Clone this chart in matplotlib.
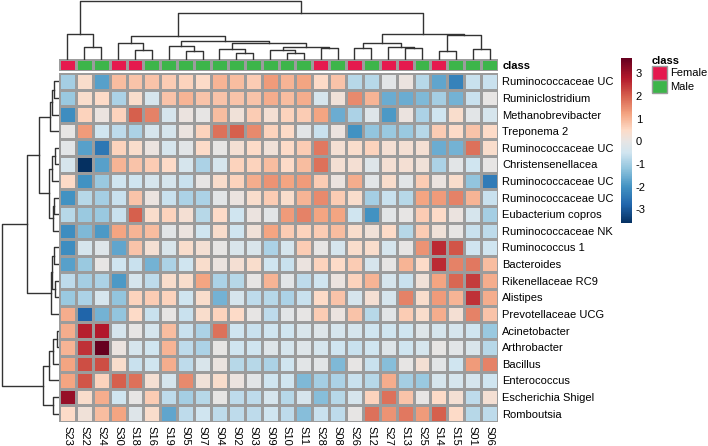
import matplotlib
matplotlib.use("Agg")
import matplotlib.pyplot as plt
import numpy as np
from matplotlib.colors import LinearSegmentedColormap, ListedColormap, Normalize
from matplotlib.patches import Patch

plt.rcParams['font.family'] = ['Liberation Sans', 'DejaVu Sans']
plt.rcParams['axes.unicode_minus'] = False

# samples in display (clustered) order
samples = ["S23", "S22", "S24", "S30", "S18", "S16", "S19", "S05", "S07", "S04",
           "S02", "S03", "S09", "S10", "S11", "S28", "S08", "S26", "S12", "S27",
           "S13", "S25", "S14", "S15", "S01", "S06"]
sex = ["Female", "Male", "Male", "Female", "Female", "Male", "Male", "Male", "Male", "Male",
       "Male", "Male", "Male", "Male", "Male", "Female", "Male", "Female", "Male", "Female",
       "Female", "Male", "Female", "Male", "Male", "Male"]

taxa = ["Ruminococcaceae UC", "Ruminiclostridium", "Methanobrevibacter", "Treponema 2",
        "Ruminococcaceae UC", "Christensenellacea", "Ruminococcaceae UC", "Ruminococcaceae UC",
        "Eubacterium copros", "Ruminococcaceae NK", "Ruminococcus 1", "Bacteroides",
        "Rikenellaceae RC9", "Alistipes", "Prevotellaceae UCG", "Acinetobacter",
        "Arthrobacter", "Bacillus", "Enterococcus", "Escherichia Shigel", "Romboutsia"]

# scaled abundance (z-score), one row per taxon
zscore = [
    [-1.0, 0.4, -1.8, 0.9, 0.8, 0.8, 0.7, 0.6, 0.5, 1.0, 0.9, 0.7, 1.3, 1.0, 1.2, 0.5, 0.8, -0.8, -0.8, -0.1, 0.1, -0.8, -1.7, -2.3, -0.6, -0.6],
    [-1.1, 0.4, 0.5, -0.9, 0.4, -0.4, 0.8, 1.0, 0.8, 0.8, 0.8, 0.8, 1.1, 0.9, 1.1, -0.4, 0.2, 1.5, 1.0, -1.6, -1.6, -1.4, -1.0, -1.5, -0.6, 0.0],
    [-2.1, 0.6, 0.1, 0.6, 2.0, 1.6, -0.4, 0.1, 0.0, 0.9, 0.2, 0.7, 0.3, 0.6, 0.7, 1.2, -1.6, -0.9, -0.2, -1.9, 0.1, -0.9, -0.5, 0.4, -0.1, -0.4],
    [0.0, 1.3, -0.5, -0.7, -0.9, -0.4, -0.4, 0.1, 0.6, 1.8, 2.0, 1.5, 0.6, 0.5, -0.1, -0.6, 0.1, -2.0, -1.2, -1.1, -1.1, -0.8, 0.7, 0.5, 0.8, 0.5],
    [-0.1, -1.8, -2.5, 0.6, 0.4, 0.1, -0.4, -0.1, 0.5, 0.0, 0.3, 0.5, 0.2, 0.5, 0.7, 1.7, 0.3, 0.4, 0.6, 0.3, 0.3, 0.3, -1.6, -1.5, 1.8, 0.4],
    [-0.4, -3.62, -1.8, 1.0, 0.8, 0.7, 0.5, -0.4, -0.9, -0.4, 0.6, 0.6, 0.9, 0.5, 0.9, 1.8, 0.3, 0.3, -0.2, 0.3, 0.3, 0.2, -0.9, -0.1, -0.5, 0.0],
    [0.5, -2.0, -1.1, -0.5, -0.5, -0.4, -0.4, -0.6, 0.0, 0.4, 0.6, 1.1, 1.4, 1.2, 1.3, 0.7, 0.1, 1.1, -0.1, 0.4, -0.1, 0.7, 0.1, 0.4, -1.2, -2.4],
    [-2.0, -0.8, -1.0, -0.6, 0.8, 0.1, -0.6, -0.9, -0.9, -0.1, 0.1, 0.4, 0.7, 0.4, 1.0, 1.5, 0.7, 0.4, -1.0, -0.6, -0.8, 1.2, 1.3, 1.6, 1.0, -0.6],
    [-0.8, -1.1, -1.1, -0.6, 2.0, 0.4, 0.6, 0.3, -0.8, 0.5, -0.5, 0.1, -0.1, 1.3, 1.6, 1.2, 1.2, -0.5, -2.0, -0.1, 0.0, 0.7, 0.5, 0.1, -0.4, -1.0],
    [-2.1, -1.4, -1.9, 1.2, 1.0, 0.9, -0.1, 0.1, -0.5, 0.4, -0.5, 0.2, 1.2, 0.7, 0.6, 0.7, 0.9, 0.4, 0.2, 0.5, -0.8, 0.7, 0.2, 0.0, -0.6, -0.7],
    [-2.1, -0.4, -0.2, -1.7, 0.8, 0.3, -0.3, 0.4, 0.3, 0.0, -0.3, -0.3, -0.9, -0.4, 0.7, 0.0, -0.4, 0.4, 0.4, -0.4, 0.0, 1.4, 2.6, 2.1, -0.5, -0.5],
    [-1.8, -1.1, 0.0, -0.5, -0.6, -1.5, -0.9, -0.5, 0.4, 0.1, 0.3, 0.4, -0.5, -0.6, 0.1, 0.6, 0.5, 0.7, -0.4, 0.0, 1.0, 0.5, 2.6, 1.6, 1.7, 0.9],
    [-0.7, -1.0, -0.9, -1.9, -0.4, -0.7, 0.4, 0.4, 1.2, -0.9, -0.8, 0.0, 1.0, -0.1, -0.7, -0.5, 0.1, 0.6, 1.0, -0.4, -0.6, 0.2, 1.2, 1.9, 2.4, 1.1],
    [-1.1, -0.9, -0.4, -1.2, 0.6, 0.7, 0.6, -0.5, 0.4, -1.5, -0.4, -0.7, -0.8, -0.9, -0.6, 0.5, 0.8, -0.4, 0.3, -0.4, 1.6, 0.4, 1.3, 1.0, 2.5, 1.1],
    [1.1, -2.8, -1.5, -1.2, 0.5, -0.6, 0.0, -0.6, 0.4, 0.6, 0.5, 0.0, -0.7, -0.1, 0.0, 0.7, 0.1, 0.8, -0.8, -0.1, 0.7, 0.4, 1.1, 0.3, 1.6, 0.8],
    [1.1, 2.7, 2.8, -0.4, 0.0, -0.4, 0.9, -0.6, -0.9, 1.8, -0.5, -0.6, -0.5, -0.5, -0.3, -0.2, -0.4, -0.4, -0.5, -0.5, -0.5, -0.2, -0.4, -0.4, -0.5, -1.1],
    [1.0, 2.5, 3.66, 0.1, -0.4, -0.5, 1.0, -0.7, -0.9, 0.0, -0.5, -0.5, -0.2, -0.4, -0.2, -0.4, -0.5, -0.6, -0.5, -0.2, -0.5, -0.4, 0.0, -0.1, -0.3, -0.8],
    [1.2, 2.2, 2.2, 0.4, -0.6, -0.5, 1.1, -0.7, -0.3, 0.1, -0.8, -0.8, -0.9, -0.5, -0.1, -0.1, -1.4, 0.0, -0.6, -1.3, 0.0, 0.3, -0.1, -0.5, 1.3, 1.6],
    [1.2, 2.1, 0.6, 2.0, 1.8, 0.3, -0.4, 1.5, 0.2, 0.4, 0.1, -0.1, -0.5, -0.5, -1.4, -1.0, -0.9, -0.6, -0.8, 1.1, -1.0, -1.1, -0.4, -0.4, -0.4, -0.5],
    [3.1, 0.4, 1.1, -0.5, 0.0, 0.7, -0.7, -1.0, -0.8, 0.0, -0.7, -0.7, -0.4, -0.8, -0.4, -1.3, -0.8, -0.4, 0.6, 1.8, 0.8, 0.0, 0.5, 0.3, -0.7, 0.3],
    [0.5, 0.2, 0.9, 1.2, -0.2, 0.4, -1.7, -0.7, -0.5, -0.7, -0.7, -0.7, -0.5, -0.7, -1.3, -0.6, -0.7, 0.0, 1.8, 1.4, 1.7, 1.3, 2.0, 0.5, -0.8, -0.7],
]

# dendrograms as nested [left, right, height]; leaves are display indices
col_tree = [[0, [1, 2, 36], 75],
            [[[3, [4, 5, 28], 50],
              [[6, [7, 8, 25], 41],
               [[9, [10, 11, 18], 31],
                [[12, [13, 14, 20], 28], [15, 16, 35], 38], 48], 56], 70],
             [[[17, 18, 35], [19, [20, 21, 33], 38], 50],
              [[22, 23, 25], [24, 25, 30], 74], 75], 138], 176]
row_tree = [[[[[[0, 1, 12], 2, 20], 3, 25],
              [[[4, 5, 10], 6, 20], [[7, 8, 12], 9, 15], 28], 58],
             [[[10, 11, 13], [12, 13, 10], 18], 14, 23], 95],
            [[[[15, 16, 5], 17, 15], 18, 27], [19, 20, 15], 45], 170]

class_colors = {"Female": "#E5194E", "Male": "#3DB54A"}
grid_col = "#9c9c9c"
tree_col = "#333333"
fs = 8

W, H = 708, 446
fig = plt.figure(figsize=(W / 100, H / 100), dpi=100)


def box(x0, y0, x1, y1):
    return [x0 / W, 1 - y1 / H, (x1 - x0) / W, (y1 - y0) / H]


z = np.array(zscore)
lo, hi = z.min(), z.max()
# diverging palette, anchored at the value levels it shows in the key
stops = [(-3.62, "#053061"), (-2.8, "#2166AC"), (-2.0, "#4393C3"), (-1.2, "#92C5DE"),
         (-0.5, "#D1E5F0"), (0.0, "#E7E5E4"), (0.5, "#FDDBC7"), (1.2, "#F4A582"),
         (2.0, "#D6604D"), (2.8, "#B2182B"), (3.66, "#67001F")]
cmap = LinearSegmentedColormap.from_list(
    "rdbu", [((v - lo) / (hi - lo), c) for v, c in stops])
norm = Normalize(vmin=lo, vmax=hi)

# heatmap
ax = fig.add_axes(box(59, 73, 498, 422))
edges_x = np.arange(len(samples) + 1) - 0.5
edges_y = np.arange(len(taxa) + 1) - 0.5
mesh = ax.pcolormesh(edges_x, edges_y, z, cmap=cmap, norm=norm,
                     edgecolors=grid_col, linewidth=0.8)
ax.set_xlim(-0.5, len(samples) - 0.5)
ax.set_ylim(len(taxa) - 0.5, -0.5)
ax.yaxis.tick_right()
ax.set_yticks(range(len(taxa)))
ax.set_yticklabels(taxa, fontsize=fs)
ax.set_xticks(range(len(samples)))
ax.set_xticklabels(samples, rotation=270, fontsize=fs)
ax.tick_params(length=0, pad=3)
for s in ax.spines.values():
    s.set_visible(False)

# class annotation bar
axa = fig.add_axes(box(59, 59, 498, 70.5))
codes = np.array([[0 if s == "Female" else 1 for s in sex]])
axa.pcolormesh(edges_x, [-0.5, 0.5], codes,
               cmap=ListedColormap([class_colors["Female"], class_colors["Male"]]),
               vmin=0, vmax=1, edgecolors=grid_col, linewidth=0.8)
axa.set_xlim(-0.5, len(samples) - 0.5)
axa.set_ylim(0.5, -0.5)
axa.set_xticks([])
axa.yaxis.tick_right()
axa.set_yticks([0])
axa.set_yticklabels(["class"], fontsize=fs, fontweight="bold")
axa.tick_params(length=0, pad=3)
for s in axa.spines.values():
    s.set_visible(False)


def draw_tree(axd, node, vertical):
    if isinstance(node, int):
        return node, 0.0
    a, b, h = node
    pa, ha = draw_tree(axd, a, vertical)
    pb, hb = draw_tree(axd, b, vertical)
    if vertical:
        axd.plot([pa, pa, pb, pb], [ha, h, h, hb], color=tree_col, lw=1.0)
    else:
        axd.plot([ha, h, h, hb], [pa, pa, pb, pb], color=tree_col, lw=1.0)
    return (pa + pb) / 2, h


axc = fig.add_axes(box(59, 0, 498, 59.5))
draw_tree(axc, col_tree, True)
axc.set_xlim(-0.5, len(samples) - 0.5)
axc.set_ylim(0, 178)
axc.axis("off")

axr = fig.add_axes(box(0, 73, 58.5, 422))
draw_tree(axr, row_tree, False)
axr.set_ylim(len(taxa) - 0.5, -0.5)
axr.set_xlim(175, 0)
axr.axis("off")

# colour scale
cax = fig.add_axes(box(620.7, 58.3, 631.7, 223.3))
cb = fig.colorbar(mesh, cax=cax, ticks=[-3, -2, -1, 0, 1, 2, 3])
cb.outline.set_visible(False)
cax.tick_params(length=0, pad=3, labelsize=fs)

# class legend
handles = [Patch(facecolor=class_colors[k], edgecolor=grid_col) for k in ["Female", "Male"]]
fig.legend(handles, ["Female", "Male"], title="class", loc="upper left",
           bbox_to_anchor=(652 / W, 1 - 56 / H), frameon=False, fontsize=fs,
           title_fontproperties={"weight": "bold", "size": fs}, alignment="left",
           handlelength=1.35, handleheight=1.5, labelspacing=0.0, handletextpad=0.3,
           borderpad=0, borderaxespad=0)

fig.savefig("out.png", dpi=100)
